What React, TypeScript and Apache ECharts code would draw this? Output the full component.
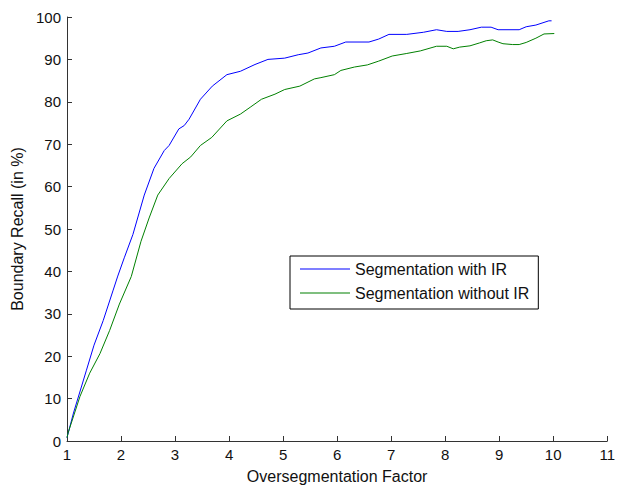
import React, { useEffect, useRef } from "react";
import * as echarts from "echarts";

const xTicks = [1, 2, 3, 4, 5, 6, 7, 8, 9, 10, 11];
const yTicks = [0, 10, 20, 30, 40, 50, 60, 70, 80, 90, 100];

const seriesNames = ["Segmentation with IR", "Segmentation without IR"];

const xWithIR = [1.0, 1.12, 1.36, 1.5, 1.67, 1.85, 1.94, 2.06, 2.22, 2.43, 2.61, 2.8, 2.89, 3.07, 3.17, 3.26, 3.47, 3.69, 3.96, 4.21, 4.48, 4.72, 5.03, 5.28, 5.46, 5.7, 5.95, 6.16, 6.59, 6.77, 6.96, 7.29, 7.6, 7.84, 8.03, 8.24, 8.46, 8.67, 8.85, 8.98, 9.37, 9.5, 9.68, 9.92, 9.97];
const yWithIR = [0.8, 6.6, 16.7, 22.6, 28.4, 35.4, 38.9, 43.2, 48.7, 58.0, 64.3, 68.5, 69.7, 73.6, 74.4, 75.9, 80.6, 83.7, 86.4, 87.2, 88.8, 90.0, 90.3, 91.1, 91.5, 92.7, 93.1, 94.1, 94.1, 94.8, 95.9, 95.9, 96.4, 97.0, 96.6, 96.6, 97.0, 97.6, 97.6, 97.0, 97.0, 97.7, 98.1, 99.1, 99.1];

const xWithoutIR = [1.0, 1.02, 1.24, 1.42, 1.61, 1.79, 1.97, 2.19, 2.37, 2.52, 2.68, 2.89, 3.13, 3.29, 3.47, 3.68, 3.96, 4.21, 4.39, 4.6, 4.85, 5.03, 5.31, 5.58, 5.7, 5.95, 6.07, 6.32, 6.56, 6.77, 7.02, 7.29, 7.54, 7.84, 8.03, 8.15, 8.27, 8.46, 8.64, 8.76, 8.88, 8.98, 9.07, 9.25, 9.37, 9.5, 9.68, 9.83, 10.02];
const yWithoutIR = [0.8, 1.9, 10.5, 16.0, 20.6, 26.1, 32.3, 38.8, 47.1, 52.6, 58.0, 61.9, 65.4, 67.0, 69.7, 71.6, 75.5, 77.1, 78.7, 80.6, 81.8, 82.9, 83.7, 85.4, 85.7, 86.4, 87.4, 88.2, 88.7, 89.6, 90.8, 91.4, 92.0, 93.1, 93.1, 92.5, 92.9, 93.2, 93.9, 94.4, 94.6, 94.1, 93.7, 93.5, 93.5, 94.0, 95.0, 96.0, 96.1];

const FONT = "'Liberation Sans', Arial, sans-serif";

function zip(xs: number[], ys: number[]) {
  return xs.map((x, i) => [x, ys[i]]);
}

export default function App() {
  const ref = useRef<HTMLDivElement>(null);
  useEffect(() => {
    if (!ref.current) return;
    const chart = echarts.init(ref.current, null, { renderer: "svg" });
    const axisLine = { show: true, lineStyle: { color: "#333", width: 1 } };
    chart.setOption({
      animation: false,
      backgroundColor: "#fff",
      grid: { left: 67, right: 6, top: 17, bottom: 44, containLabel: false },
      legend: {
        orient: "vertical",
        left: 290,
        top: 256,
        padding: [5, 9, 8, 10],
        icon: "rect",
        itemWidth: 50,
        itemHeight: 1,
        itemGap: 8,
        borderColor: "#000",
        borderWidth: 1,
        backgroundColor: "#fff",
        data: seriesNames,
        textStyle: { fontFamily: FONT, fontSize: 16, color: "#111", lineHeight: 16 },
      },
      xAxis: {
        type: "value",
        min: xTicks[0],
        max: xTicks[xTicks.length - 1],
        interval: 1,
        name: "Oversegmentation Factor",
        nameLocation: "middle",
        nameGap: 27,
        nameTextStyle: { fontFamily: FONT, fontSize: 16, color: "#111" },
        axisLine,
        axisTick: { show: true, inside: true, length: 5, lineStyle: { color: "#333" } },
        axisLabel: { fontFamily: FONT, fontSize: 15, color: "#111", margin: 6 },
        splitLine: { show: false },
      },
      yAxis: {
        type: "value",
        min: yTicks[0],
        max: yTicks[yTicks.length - 1],
        interval: 10,
        name: "Boundary Recall (in %)",
        nameLocation: "middle",
        nameGap: 42,
        nameTextStyle: { fontFamily: FONT, fontSize: 16, color: "#111" },
        axisLine,
        axisTick: { show: true, inside: true, length: 5, lineStyle: { color: "#333" } },
        axisLabel: { fontFamily: FONT, fontSize: 15, color: "#111", margin: 6 },
        splitLine: { show: false },
      },
      series: [
        {
          name: seriesNames[0],
          type: "line",
          data: zip(xWithIR, yWithIR),
          symbol: "none",
          smooth: false,
          lineStyle: { color: "#0000ff", width: 1 },
          itemStyle: { color: "#0000ff" },
        },
        {
          name: seriesNames[1],
          type: "line",
          data: zip(xWithoutIR, yWithoutIR),
          symbol: "none",
          smooth: false,
          lineStyle: { color: "#008000", width: 1 },
          itemStyle: { color: "#008000" },
        },
      ],
    });
    return () => chart.dispose();
  }, []);
  return (
    <div
      ref={ref}
      style={{ position: "fixed", left: 0, top: 0, width: 618, height: 489, background: "#fff" }}
    />
  );
}
